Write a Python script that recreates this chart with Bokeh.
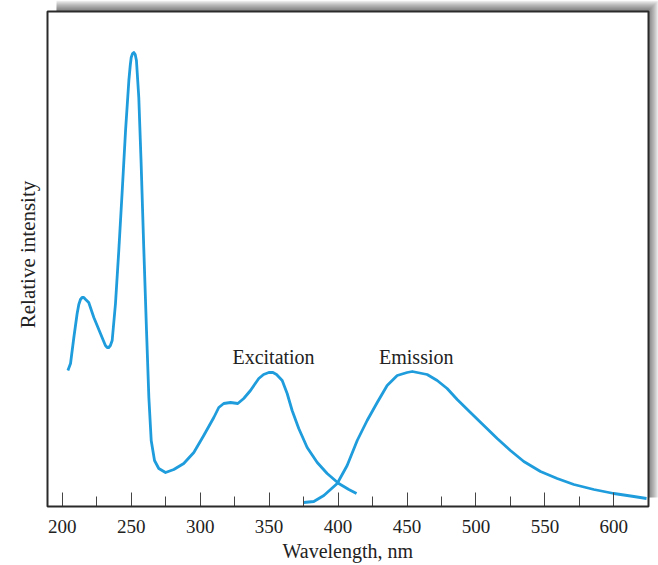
from bokeh.plotting import figure
from bokeh.models import BoxAnnotation, SingleIntervalTicker, FixedTicker, Range1d, Label, Title
from bokeh.embed import file_html
from bokeh.resources import INLINE

# ---- data ----
exc_wl = [204.1, 206.0, 208.4, 210.8, 212.0, 213.2, 214.4, 215.6, 217.0, 219.2, 222.9, 227.7,
          231.3, 232.6, 233.7, 234.9, 236.2, 238.6, 241.0, 243.5, 245.9, 248.3, 249.3, 250.0,
          251.0, 251.9, 252.9, 253.8, 255.5, 257.2, 259.1, 261.1, 262.8, 264.5, 266.9, 270.0,
          274.9, 280.9, 288.1, 295.4, 302.6, 309.9, 313.5, 317.1, 322.0, 327.3, 331.6, 336.5,
          342.5, 346.0, 349.8, 352.8, 355.4, 359.5, 363.1, 366.7, 371.5, 377.6, 384.9, 392.1,
          400.5, 407.8, 413.4]
exc_int = [136, 143, 169, 193, 202, 207, 209, 209, 207, 204, 189, 173,
           161, 159, 159, 161, 166, 203, 256, 316, 376, 426, 441, 449,
           453, 454, 452, 446, 409, 343, 259, 176, 109, 66, 46, 38,
           34, 37, 43, 54, 71, 89, 99, 103, 104, 103, 108, 116,
           128, 132, 134, 134, 132, 126, 113, 96, 78, 59, 44, 33,
           23, 17, 13]

em_wl = [375.2, 382.4, 389.7, 399.4, 406.6, 413.9, 421.1, 428.4, 435.6, 442.9, 450.1, 453.8,
         457.4, 464.6, 471.9, 479.1, 486.4, 496.0, 505.7, 515.4, 525.0, 534.7, 546.8, 558.9,
         571.0, 585.5, 600.0, 614.5, 623.7]
em_int = [4, 5, 11, 23, 41, 66, 86, 104, 121, 131, 134, 135,
          134, 132, 126, 118, 107, 94, 81, 68, 56, 45, 35, 28,
          22, 17, 13, 10, 8]

label_texts = ["Excitation", "Emission"]
label_wl = [353.2, 456.7]
label_int = [150, 150]

# ---- layout constants (canvas pixels) ----
W, H = 658, 565
BOX_L, BOX_R, BOX_T, BOX_B = 47, 648, 11, 506
FRAME_L, FRAME_B = 44, 508
PX_PER_NM = 1.379
X0 = 189.3                          # wavelength at left box edge

def xd(px):
    return X0 + (px - BOX_L) / PX_PER_NM

def yd(py):
    return BOX_B - py

BLUE = "#1E9CDC"
FONT = "Liberation Serif"

p = figure(width=W, height=H, output_backend="svg", toolbar_location=None,
           x_range=Range1d(xd(FRAME_L), xd(W)), y_range=Range1d(yd(FRAME_B), yd(0)),
           min_border_left=FRAME_L, min_border_right=0, min_border_top=0,
           min_border_bottom=H - FRAME_B)
p.outline_line_color = None
p.grid.visible = False
p.background_fill_color = "white"
p.border_fill_color = "white"

# shadow (layered for a soft gradient), offset up-right of the box
for k in range(10):
    p.add_layout(BoxAnnotation(left=xd(56), right=xd(W - k), bottom=yd(497), top=yd(k),
                               fill_color="black", fill_alpha=0.06, line_color=None,
                               level="underlay"))
# chart box
p.add_layout(BoxAnnotation(left=X0, right=xd(BOX_R), bottom=0, top=yd(BOX_T),
                           fill_color="white", fill_alpha=1.0, line_color=None,
                           level="underlay"))
p.add_layout(BoxAnnotation(left=X0, right=xd(BOX_R), bottom=0, top=yd(BOX_T),
                           fill_alpha=0, line_color="#2a2a2a", line_alpha=1.0,
                           line_width=2, level="overlay"))

p.line(exc_wl, exc_int, line_color=BLUE, line_width=2.8, line_join="round")
p.line(em_wl, em_int, line_color=BLUE, line_width=2.8, line_join="round")

for t, x, y in zip(label_texts, label_wl, label_int):
    p.add_layout(Label(x=x, y=y, text=t, text_align="center", text_baseline="alphabetic",
                       text_font=FONT, text_font_size="20px", text_color="#222222"))

# x axis
xa = p.xaxis[0]
xa.ticker = SingleIntervalTicker(interval=50, num_minor_ticks=2)
xa.axis_line_color = None
xa.major_tick_in = 16
xa.major_tick_out = -2
xa.minor_tick_in = 12
xa.minor_tick_out = -2
xa.major_tick_line_color = "#444444"
xa.minor_tick_line_color = "#444444"
xa.major_label_text_font = FONT
xa.major_label_text_font_size = "19px"
xa.major_label_text_color = "#222222"
xa.major_label_standoff = 13

# x axis title, centred under the box
p.add_layout(Title(text="Wavelength, nm", align="left", offset=238, standoff=4,
                   text_font=FONT, text_font_size="20px", text_font_style="normal",
                   text_color="#222222"), "below")

# y axis
ya = p.yaxis[0]
ya.ticker = FixedTicker(ticks=[])
ya.axis_line_color = None
ya.major_tick_line_color = None
ya.minor_tick_line_color = None
ya.major_label_text_font_size = "0px"
ya.axis_label = "Relative intensity"
ya.axis_label_text_font = FONT
ya.axis_label_text_font_size = "21px"
ya.axis_label_text_font_style = "normal"
ya.axis_label_text_color = "#222222"
ya.axis_label_standoff = 5

open("out.html", "w").write(file_html(p, INLINE))
